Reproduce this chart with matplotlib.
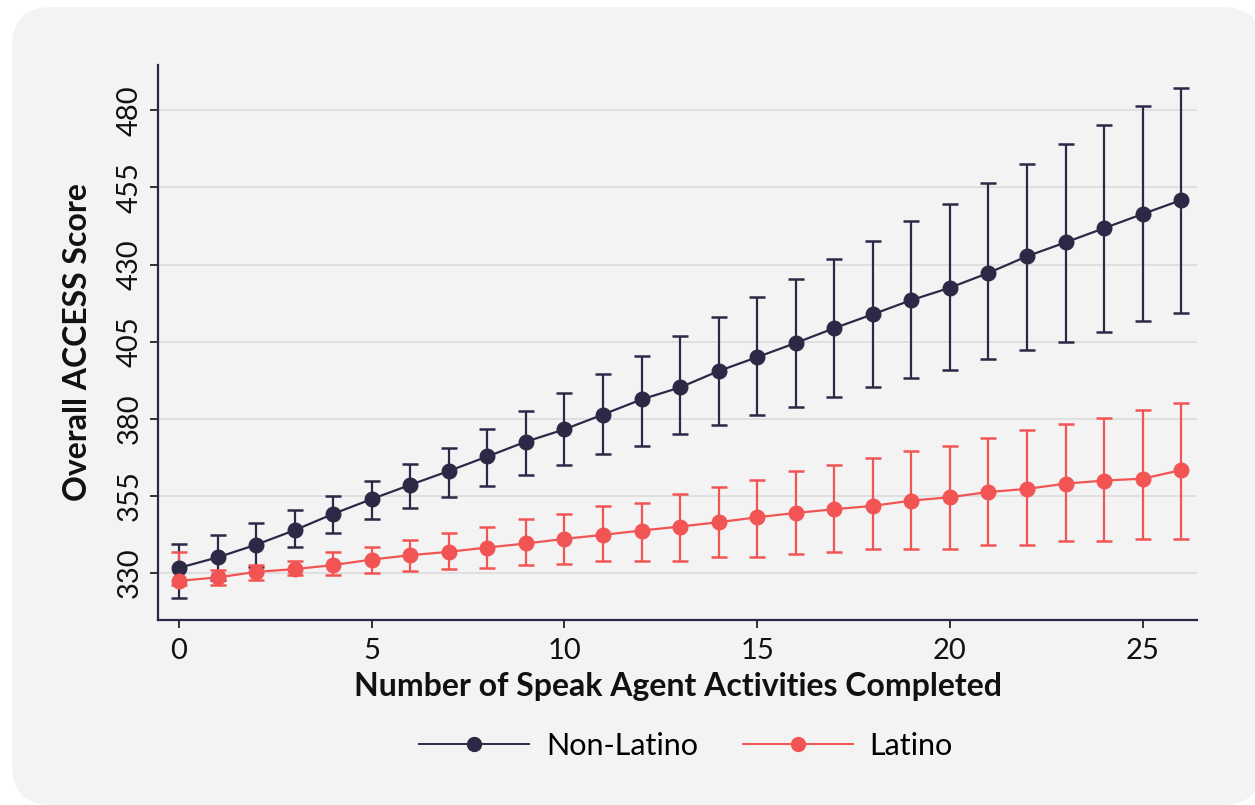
import matplotlib
matplotlib.use("Agg")
import matplotlib.pyplot as plt
import numpy as np
from matplotlib.patches import FancyBboxPatch
from matplotlib.transforms import IdentityTransform
from matplotlib.lines import Line2D

plt.rcParams['font.family'] = ['Lato', 'DejaVu Sans']

# Number of Speak Agent activities completed
activities = list(range(27))

# Non-Latino: predicted score with confidence interval
nonlatino_mean = [331.7, 335.1, 339.2, 343.9, 349.2, 354.0, 358.6, 363.1, 367.8,
                  372.6, 376.6, 381.4, 386.3, 390.2, 395.5, 400.0, 404.6, 409.4,
                  413.9, 418.5, 422.5, 427.3, 432.7, 437.2, 441.8, 446.4, 450.9]
nonlatino_upper = [339.3, 342.5, 346.3, 350.6, 355.0, 360.0, 365.3, 370.6, 376.8,
                   382.7, 388.3, 394.4, 400.3, 406.9, 412.9, 419.4, 425.3, 431.7,
                   437.6, 444.0, 449.8, 456.3, 462.5, 469.1, 475.2, 481.4, 487.2]
nonlatino_lower = [322.0, 327.7, 332.1, 338.5, 343.1, 347.4, 351.2, 354.7, 358.2,
                   361.8, 365.2, 368.5, 371.1, 375.1, 378.0, 381.1, 383.8, 387.1,
                   390.3, 393.1, 395.7, 399.4, 402.3, 404.9, 408.2, 411.6, 414.4]

# Latino: predicted score with confidence interval
latino_mean = [327.5, 328.6, 330.4, 331.3, 332.6, 334.4, 335.8, 336.9, 338.3,
               339.6, 341.1, 342.4, 343.8, 345.1, 346.5, 348.1, 349.5, 350.7,
               351.8, 353.5, 354.6, 356.3, 357.3, 359.0, 360.0, 360.6, 363.4]
latino_upper = [336.9, 331.0, 332.6, 334.0, 336.7, 338.4, 340.6, 343.0, 344.9,
                347.4, 349.2, 351.6, 352.8, 355.8, 357.9, 360.1, 363.2, 365.2,
                367.4, 369.6, 371.2, 373.8, 376.5, 378.3, 380.4, 382.8, 385.3]
latino_lower = [326.0, 326.1, 327.7, 329.4, 329.4, 329.9, 330.6, 331.2, 331.8,
                332.5, 332.8, 334.0, 334.0, 334.0, 335.2, 335.2, 336.1, 336.7,
                337.8, 337.8, 337.8, 339.1, 339.1, 340.4, 340.4, 341.2, 341.2]

y_ticks = [330, 355, 380, 405, 430, 455, 480]
x_ticks = [0, 5, 10, 15, 20, 25]

navy = '#2b2946'
red = '#f25454'

fig = plt.figure(figsize=(12.55, 8.05), dpi=100)
fig.patch.set_facecolor('white')

# rounded light-grey panel behind everything
panel = FancyBboxPatch((12, 0), 1250, 798,
                       boxstyle='round,pad=0,rounding_size=40',
                       transform=IdentityTransform(),
                       facecolor='#f3f3f3', edgecolor='none', zorder=-10)
fig.add_artist(panel)

ax = fig.add_axes([158 / 1255, 1 - 620 / 805, (1197 - 158) / 1255, (620 - 65) / 805])
ax.set_facecolor('none')

x = np.array(activities)
nl_mean = np.array(nonlatino_mean)
la_mean = np.array(latino_mean)

ax.errorbar(x, nl_mean,
            yerr=[nl_mean - np.array(nonlatino_lower), np.array(nonlatino_upper) - nl_mean],
            fmt='none', ecolor=navy, elinewidth=1.6, capsize=5.5, capthick=1.8, zorder=3)
ax.errorbar(x, la_mean,
            yerr=[la_mean - np.array(latino_lower), np.array(latino_upper) - la_mean],
            fmt='none', ecolor=red, elinewidth=1.6, capsize=5.5, capthick=1.8, zorder=4)
ax.plot(x, nl_mean, '-o', color=navy, lw=1.6, ms=10.5, zorder=5)
ax.plot(x, la_mean, '-o', color=red, lw=1.6, ms=10.5, zorder=6)

ax.set_xlim(-0.545, 26.41)
ax.set_ylim(314.8, 494.7)
ax.set_xticks(x_ticks)
ax.set_yticks(y_ticks)

ax.yaxis.grid(True, color='#dcdcdc', lw=1.2)
ax.set_axisbelow(True)

for side in ['top', 'right']:
    ax.spines[side].set_visible(False)
for side in ['left', 'bottom']:
    ax.spines[side].set_color(navy)
    ax.spines[side].set_linewidth(1.6)

ax.tick_params(axis='both', length=6, width=1.2, color='#111111',
               labelsize=21, labelcolor='#111111')
ax.tick_params(axis='y', pad=5)
ax.tick_params(axis='x', pad=7)
for lab in ax.get_yticklabels():
    lab.set_rotation(90)
    lab.set_va('center')

ax.set_xlabel('Number of Speak Agent Activities Completed', fontsize=23,
              fontweight='bold', color='#111111', labelpad=6)
ax.set_ylabel('Overall ACCESS Score', fontsize=23, fontweight='bold',
              color='#111111', labelpad=18)

handles = [Line2D([0], [0], color=navy, lw=1.4, marker='o', ms=10),
           Line2D([0], [0], color=red, lw=1.4, marker='o', ms=10)]
fig.legend(handles, ['Non-Latino', 'Latino'], loc='center',
           bbox_to_anchor=(686 / 1255, 1 - 746 / 805), ncol=2, frameon=False,
           handlelength=3.6, handletextpad=0.55, columnspacing=1.45, fontsize=22)

fig.savefig('out.png', dpi=100, facecolor=fig.get_facecolor())
